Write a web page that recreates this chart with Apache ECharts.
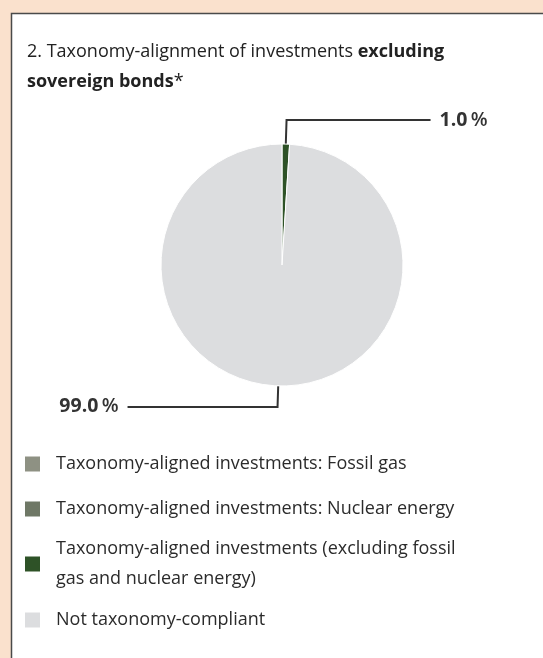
<!DOCTYPE html>
<html>
<head>
<meta charset="utf-8">
<script src="https://cdn.jsdelivr.net/npm/echarts@6/dist/echarts.min.js"></script>
<style>
html,body{margin:0;padding:0;background:#fae1cd;}
#chart{width:543px;height:658px;}
</style>
</head>
<body>
<div id="chart"></div>
<script>
const categories = [
  'Taxonomy-aligned investments: Fossil gas',
  'Taxonomy-aligned investments: Nuclear energy',
  'Taxonomy-aligned investments (excluding fossil\ngas and nuclear energy)',
  'Not taxonomy-compliant'
];
const values = [0, 0, 1.0, 99.0];
const colors = ['#8e9183', '#6f7866', '#2e5227', '#dcdddf'];
const labelTexts = ['', '', '1.0', '99.0'];

const FONT = '"Open Sans"';
const chart = echarts.init(document.getElementById('chart'));

const data = categories.map((name, i) => {
  const item = { name: name, value: values[i], itemStyle: { color: colors[i] } };
  if (values[i] === 0) {
    item.label = { show: false };
    item.labelLine = { show: false };
  } else if (i === 2) {
    item.labelLine = { length: 24, length2: 144 };
  } else {
    item.labelLine = { length: 21, length2: 150 };
  }
  return item;
});

const legendTops = [444, 489, 529, 600];
const legends = categories.map((name, i) => ({
  orient: 'vertical',
  left: 20,
  top: legendTops[i],
  itemWidth: 15,
  itemHeight: 15,
  icon: 'rect',
  selectedMode: false,
  data: [name],
  itemStyle: { borderWidth: 0 },
  textStyle: {
    fontFamily: FONT,
    fontSize: 18,
    fontWeight: 'normal',
    color: '#2b2b2b',
    lineHeight: 30,
    padding: [0, 0, 0, 11]
  }
}));

chart.setOption({
  backgroundColor: '#fae1cd',
  animation: false,
  graphic: [{
    type: 'rect',
    z: -10,
    shape: { x: 11.5, y: 13.5, width: 700, height: 800 },
    style: { fill: '#ffffff', stroke: '#4a4a4a', lineWidth: 1.5 }
  }],
  title: {
    left: 22,
    top: 32,
    text: '{n|2. Taxonomy-alignment of investments }{b|excluding}\n{b|sovereign bonds}{n|*}',
    textStyle: {
      fontWeight: 'normal',
      rich: {
        n: { fontFamily: FONT, fontSize: 18, fontWeight: 'normal', color: '#222', lineHeight: 30 },
        b: { fontFamily: FONT, fontSize: 18, fontWeight: 'bold', color: '#222', lineHeight: 30 }
      }
    }
  },
  legend: legends,
  series: [{
    type: 'pie',
    center: [282, 265],
    radius: [0, 121],
    startAngle: 90,
    clockwise: true,
    avoidLabelOverlap: false,
    itemStyle: { borderColor: '#ffffff', borderWidth: 1 },
    emphasis: { disabled: true },
    label: {
      show: true,
      position: 'outside',
      formatter: (p) => '{b|' + labelTexts[p.dataIndex] + '} {p|%}',
      rich: {
        b: { fontFamily: FONT, fontSize: 19.5, fontWeight: 'bold', color: '#333' },
        p: { fontFamily: FONT, fontSize: 19.5, fontWeight: 600, color: '#333' }
      },
      distanceToLabelLine: 9
    },
    labelLine: {
      show: true,
      smooth: false,
      lineStyle: { color: '#333', width: 2 }
    },
    data: data
  }]
});
</script>
</body>
</html>
